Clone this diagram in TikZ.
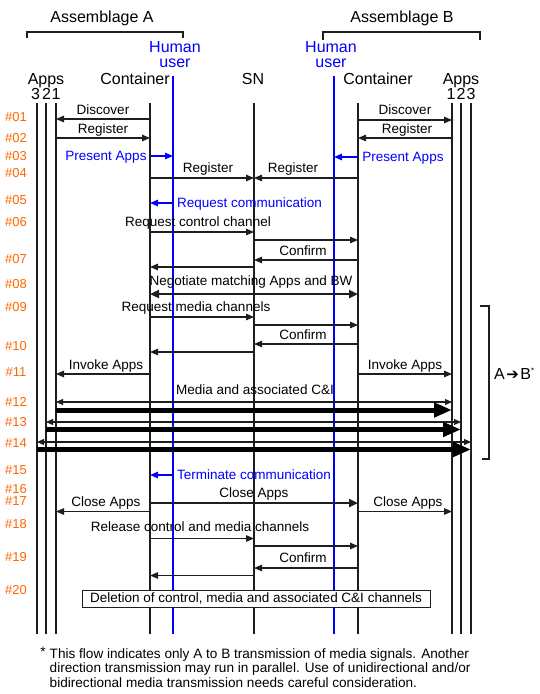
\documentclass[tikz,border=0pt]{standalone}
\usepackage{fontspec}
\setmainfont{Liberation Sans}
\newfontfamily\symfont{DejaVu Sans}
\usetikzlibrary{arrows.meta}
\definecolor{rowor}{RGB}{255,102,0}
\definecolor{ublue}{RGB}{0,0,255}
\definecolor{lline}{RGB}{30,30,30}
\begin{document}
\begin{tikzpicture}[x=1pt,y=-1pt,
  life/.style={line width=1.2pt, draw=lline},
  hlife/.style={line width=1.4pt, draw=ublue},
  msg/.style={line width=1.1pt, draw=lline, -{Triangle[length=8pt,width=6.5pt]}},
  bmsg/.style={line width=1.4pt, draw=ublue, -{Triangle[length=8pt,width=6.5pt]}},
  dmsg/.style={line width=1.1pt, draw=lline, {Triangle[length=7pt,width=6pt]}-{Triangle[length=7pt,width=6pt]}},
  tmsg/.style={line width=2.6pt, draw=lline, -{Triangle[length=9pt,width=8pt]}},
  tdmsg/.style={line width=2.6pt, draw=lline, {Triangle[length=9pt,width=8pt]}-{Triangle[length=9pt,width=8pt]}},
  media/.style={line width=5pt, draw=black, -{Triangle[length=18pt,width=14pt]}},
  mtxt/.style={font=\fontsize{13.5}{15}\selectfont, inner sep=0pt, text height=9.7pt, text depth=0pt, text=black},
  btxt/.style={mtxt, text=ublue},
  htxt/.style={font=\fontsize{16}{18}\selectfont, inner sep=0pt, text height=11.5pt, text depth=0pt},
  rowl/.style={font=\fontsize{13}{14}\selectfont, inner sep=0pt, text height=9.3pt, text depth=0pt, text=rowor},
  fn/.style={font=\fontsize{13.6}{15}\selectfont, inner sep=0pt, anchor=base west},
  brk/.style={line width=1.1pt, draw=lline}
]
\useasboundingbox (0,0) rectangle (540,694);
\fill[white] (0,0) rectangle (540,694);

% headers
\node[htxt] (asA) at (102,17) {Assemblage A};
\node[htxt] (asB) at (402,17) {Assemblage B};
\draw[brk] (27,38) -- (27,32) -- (183,32) -- (183,38);
\draw[brk] (323,40) -- (323,32) -- (480,32) -- (480,40);
\node[htxt, text=ublue] (huA1) at (175,47) {Human};
\node[htxt, text=ublue] (huA2) at (175,62) {user};
\node[htxt, text=ublue] (huB1) at (331,47) {Human};
\node[htxt, text=ublue] (huB2) at (331,62) {user};
\node[htxt] (appsA) at (46,79) {Apps};
\node[htxt] (contA) at (135,79) {Container};
\node[htxt] (snl) at (253,79) {SN};
\node[htxt] (contB) at (378,79) {Container};
\node[htxt] (appsB) at (461,79) {Apps};
\node[htxt] (nA3) at (35.5,94) {3};
\node[htxt] (nA2) at (46.5,94) {2};
\node[htxt] (nA1) at (56,94) {1};
\node[htxt] (nB1) at (451,94) {1};
\node[htxt] (nB2) at (461,94) {2};
\node[htxt] (nB3) at (471,94) {3};

% lifelines
\foreach \n/\xx in {a3/37,a2/46,a1/56,ca/150,sn/254,cb/358,b1/452,b2/461,b3/471}{
  \coordinate (\n) at (\xx,103);
  \coordinate (\n-end) at (\xx,634);
  \draw[life] (\n) -- (\n-end);
}
\foreach \n/\xx in {ha/173,hb/334}{
  \coordinate (\n) at (\xx,76);
  \coordinate (\n-end) at (\xx,634);
  \draw[hlife] (\n) -- (\n-end);
}

% row labels
\foreach \lab/\yy in {01/117,02/138,03/156,04/173,05/200,06/222,07/259,08/284,09/307,10/346,11/372,12/402,13/422,14/443,15/470,16/489,17/501,18/524,19/557,20/590}{
  \node[rowl] (r\lab) at (16,\yy) {\#\lab};
}

% #01
\node[mtxt] (t01a) at (103,110) {Discover};
\draw[msg] (ca |- 0,119) -- (a1 |- 0,119);
\node[mtxt] (t01b) at (405,110) {Discover};
\draw[msg] (cb |- 0,120) -- (b1 |- 0,120);
% #02
\node[mtxt] (t02a) at (103,129) {Register};
\draw[msg] (a1 |- 0,138) -- (ca |- 0,138);
\node[mtxt] (t02b) at (407,129) {Register};
\draw[msg] (b1 |- 0,138) -- (cb |- 0,138);
% #03
\node[btxt] (t03a) at (106,156) {Present Apps};
\draw[bmsg] (ca |- 0,156) -- (ha |- 0,156);
\node[btxt] (t03b) at (403,157) {Present Apps};
\draw[bmsg] (cb |- 0,157) -- (hb |- 0,157);
% #04
\node[mtxt] (t04a) at (208,168) {Register};
\draw[msg] (ca |- 0,178) -- (sn |- 0,178);
\node[mtxt] (t04b) at (293,168) {Register};
\draw[msg] (cb |- 0,178) -- (sn |- 0,178);
% #05
\node[btxt, anchor=west] (t05) at (177,203) {Request communication};
\draw[bmsg] (ha |- 0,203) -- (ca |- 0,203);
% #06
\node[mtxt] (t06) at (198,222) {Request control channel};
\draw[msg] (ca |- 0,232) -- (sn |- 0,232);
\draw[msg] (sn |- 0,240) -- (cb |- 0,240);
% #07
\node[mtxt] (t07) at (303,251) {Confirm};
\draw[msg] (cb |- 0,260) -- (sn |- 0,260);
\draw[msg] (sn |- 0,267) -- (ca |- 0,267);
% #08
\node[mtxt] (t08) at (251,281) {Negotiate matching Apps and BW};
\draw[tdmsg] (ca |- 0,294) -- (cb |- 0,294);
% #09
\node[mtxt] (t09) at (196,307) {Request media channels};
\draw[msg] (ca |- 0,317) -- (sn |- 0,317);
\draw[msg] (sn |- 0,325) -- (cb |- 0,325);
% #10
\node[mtxt] (t10) at (303,335) {Confirm};
\draw[msg] (cb |- 0,344) -- (sn |- 0,344);
\draw[msg] (sn |- 0,352) -- (ca |- 0,352);
% #11
\node[mtxt] (t11a) at (106,365) {Invoke Apps};
\draw[msg] (ca |- 0,374) -- (a1 |- 0,374);
\node[mtxt] (t11b) at (405,365) {Invoke Apps};
\draw[msg] (cb |- 0,374) -- (b1 |- 0,374);
% media
\node[mtxt] (tmed) at (255,390) {Media and associated C\&I};
\draw[dmsg] (a1 |- 0,402) -- (b1 |- 0,402);
\draw[media] (a1 |- 0,410) -- (b1 |- 0,410);
\draw[dmsg] (a2 |- 0,422) -- (b2 |- 0,422);
\draw[media] (a2 |- 0,429.5) -- (b2 |- 0,429.5);
\draw[dmsg] (a3 |- 0,442) -- (b3 |- 0,442);
\draw[media] (a3 |- 0,449.5) -- (b3 |- 0,449.5);
% right bracket
\draw[brk] (480,306) -- (489,306) -- (489,459) -- (482,459);
\node[htxt, anchor=west] (ab) at (494,374) {A\kern1.5pt{\symfont\bfseries\fontsize{15}{16}\selectfont ➔}\kern1.5pt B\textsuperscript{\fontsize{8}{8}\selectfont *}};
% #15
\node[btxt, anchor=west] (t15) at (177,475) {Terminate communication};
\draw[bmsg] (ha |- 0,475) -- (ca |- 0,475);
% #16/#17
\node[mtxt] (t16) at (254,492.5) {Close Apps};
\draw[tmsg] (ca |- 0,503) -- (cb |- 0,503);
\node[mtxt] (t17a) at (106,502) {Close Apps};
\draw[msg] (ca |- 0,511.5) -- (a1 |- 0,511.5);
\node[mtxt] (t17b) at (408,502) {Close Apps};
\draw[msg] (cb |- 0,511.5) -- (b1 |- 0,511.5);
% #18
\node[mtxt] (t18) at (200,527) {Release control and media channels};
\draw[msg] (ca |- 0,538.5) -- (sn |- 0,538.5);
\draw[msg] (sn |- 0,546) -- (cb |- 0,546);
% #19
\node[mtxt] (t19) at (303,558) {Confirm};
\draw[msg] (cb |- 0,568) -- (sn |- 0,568);
\draw[msg] (sn |- 0,575.5) -- (ca |- 0,575.5);
% #20
\node[draw=lline, fill=white, line width=1pt, minimum width=348pt, minimum height=16.5pt, inner sep=0pt, font=\fontsize{13.5}{15}\selectfont] (del) at (256,598.75) {Deletion of control, media and associated C\&I channels};

% footnote
\node[font=\fontsize{13.6}{15}\selectfont, inner sep=0pt] (ast) at (43,652) {*};
\node[fn] (fn1) at (49.5,658.3) {This flow indicates only A to B transmission of media signals. Another};
\node[fn] (fn2) at (49.5,672.8) {direction transmission may run in parallel. Use of unidirectional and/or};
\node[fn] (fn3) at (49.5,687.3) {bidirectional media transmission needs careful consideration.};
\end{tikzpicture}
\end{document}
